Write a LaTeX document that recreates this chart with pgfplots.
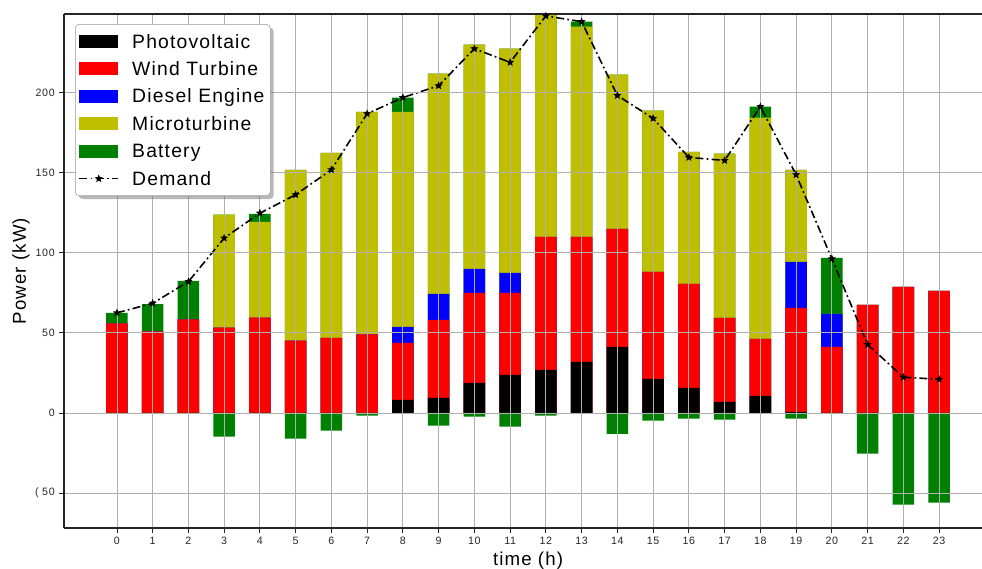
\documentclass[border=0pt]{standalone}
\usepackage{fontspec}
\setmainfont{Liberation Sans}
\newfontfamily\spaced[LetterSpace=6]{Liberation Sans}
\usepackage{pgfplots}
\usepackage{pgfplotstable}
\pgfplotsset{compat=1.18}
\usetikzlibrary{shadows}

\definecolor{mtcol}{RGB}{191,191,0}
\definecolor{batcol}{RGB}{0,128,0}
\definecolor{gridcol}{RGB}{176,176,176}
\definecolor{spine}{RGB}{38,38,38}

% the legend box shadow must not reach the legend samples
\makeatletter
\tikzset{no preactions/.code={\let\tikz@preactions\pgfutil@empty}}
\makeatother

% filled five-pointed star
\pgfdeclareplotmark{fstar}{%
  \pgfpathmoveto{\pgfpointpolar{90}{\pgfplotmarksize}}%
  \pgfpathlineto{\pgfpointpolar{126}{0.45\pgfplotmarksize}}%
  \pgfpathlineto{\pgfpointpolar{162}{\pgfplotmarksize}}%
  \pgfpathlineto{\pgfpointpolar{198}{0.45\pgfplotmarksize}}%
  \pgfpathlineto{\pgfpointpolar{234}{\pgfplotmarksize}}%
  \pgfpathlineto{\pgfpointpolar{270}{0.45\pgfplotmarksize}}%
  \pgfpathlineto{\pgfpointpolar{306}{\pgfplotmarksize}}%
  \pgfpathlineto{\pgfpointpolar{342}{0.45\pgfplotmarksize}}%
  \pgfpathlineto{\pgfpointpolar{18}{\pgfplotmarksize}}%
  \pgfpathlineto{\pgfpointpolar{54}{0.45\pgfplotmarksize}}%
  \pgfpathclose
  \pgfusepathqfill}

\pgfplotsset{
  barleg/.style={legend image code/.code={\fill[##1, sharp corners, no preactions] (0pt,-5pt) rectangle (29pt,5pt);}},
  lineleg/.style={legend image code/.code={\draw[mark repeat=2,mark phase=2,##1, sharp corners, no preactions] plot coordinates {(0pt,0pt) (14.5pt,0pt) (29pt,0pt)};}},
}

% cumulative bar tops (kW): pv, +wind, +diesel, +microturbine, +battery; battery charging below zero
\pgfplotstableread{
h  pv   wt    de    mt    bt    neg    dem
0  0    56    56    56    62.5  0      62.5
1  0    51    51    51    68    0      68.5
2  0    58.5  58.5  58.5  82.5  0      82
3  0    53.3  53.3  123.8 123.8 -14.8  109.2
4  0    59.6  59.6  119.4 124.4 0      124.8
5  0    45.2  45.2  151.9 151.9 -16    136.3
6  0    46.9  46.9  162.5 162.5 -11    151.9
7  0    49    49    188   188   -1.7   186.9
8  8.1  43.8  53.8  188   196.9 0      197
9  9.4  58.1  74.4  211.9 211.9 -7.9   204.4
10 18.8 75    90    230   230   -2.3   227.5
11 23.8 75    87.5  227.5 227.5 -8.5   219
12 26.9 110   110   250   250   -1.7   248
13 31.9 110   110   241.3 244.4 0      244.4
14 41.3 115   115   211.3 211.3 -13.1  198.3
15 21.3 88.1  88.1  188.8 188.8 -4.8   184
16 15.6 80.6  80.6  163.1 163.1 -3.5   159.6
17 6.9  59.4  59.4  161.9 161.9 -4.2   157.7
18 10.6 46.3  46.3  184.4 191.3 0      191.3
19 0.6  65.6  94.4  151.9 151.9 -3.5   148.8
20 0    41.3  61.9  61.9  96.9  0      96.3
21 0    67.5  67.5  67.5  67.5  -25.4  42.7
22 0    78.8  78.8  78.8  78.8  -57.3  22.3
23 0    76.3  76.3  76.3  76.3  -56    21
}\energy

\begin{document}
\begin{tikzpicture}
\useasboundingbox (-48pt,-30pt) rectangle (688.5pt,396pt);
\clip (-48pt,-30pt) rectangle (688.5pt,396pt);
\begin{axis}[
  scale only axis, width=696pt, height=385.5pt,
  xmin=-1.48, xmax=24.48, ymin=-71.9, ymax=249.2,
  axis x line*=box, axis y line*=left,
  xtick pos=left, ytick pos=left,
  xtick={0,...,23},
  ytick={-50,0,50,100,150,200},
  yticklabels={\mbox{( 50},0,50,100,150,200},
  grid=major, grid style={gridcol, line width=0.6pt},
  axis on top,
  tick align=outside, major tick length=3.4pt,
  every tick/.style={spine, line width=0.6pt},
  axis line style={spine, line width=0.8pt},
  /pgf/number format/assume math mode=true,
  ticklabel style={font=\fontsize{8}{9.6}\selectfont\spaced, text=spine},
  xlabel={time (h)}, ylabel={Power (kW)},
  every axis x label/.style={at={(axis description cs:0.5,-0.072)}, anchor=base,
    font=\fontsize{14}{16}\selectfont\spaced},
  every axis y label/.style={at={(axis description cs:-0.041,0.5)}, rotate=90, anchor=base,
    font=\fontsize{14}{16}\selectfont\spaced},
  legend cell align=left,
  legend style={at={(axis description cs:0.0119,0.9805)}, anchor=north west,
    draw=black!40, fill=white, rounded corners=3pt,
    drop shadow={shadow xshift=2.5pt, shadow yshift=-2.5pt, fill=black!55},
    font=\fontsize{14.5}{16}\selectfont\spaced,
    inner xsep=2.5pt, inner ysep=5.3pt, row sep=5.6pt,
    nodes={inner sep=2pt, text height=10.5pt, text depth=0.5pt},
    /tikz/every odd column/.append style={column sep=8pt}},
  bar width=0.6,
]
\addlegendimage{barleg, fill=black, draw=none}
\addlegendentry{Photovoltaic}
\addlegendimage{barleg, fill=red, draw=none}
\addlegendentry{Wind Turbine}
\addlegendimage{barleg, fill=blue, draw=none}
\addlegendentry{Diesel Engine}
\addlegendimage{barleg, fill=mtcol, draw=none}
\addlegendentry{Microturbine}
\addlegendimage{barleg, fill=batcol, draw=none}
\addlegendentry{Battery}
\addlegendimage{lineleg, black, line width=1.2pt, dash pattern=on 6pt off 2.4pt on 1.3pt off 2.4pt,
  mark=fstar, mark size=3.2pt, mark options={solid}}
\addlegendentry{Demand}

\addplot[ybar, bar shift=0pt, draw=none, fill=batcol, forget plot] table[x=h, y=bt] {\energy};
\addplot[ybar, bar shift=0pt, draw=none, fill=mtcol, forget plot] table[x=h, y=mt] {\energy};
\addplot[ybar, bar shift=0pt, draw=none, fill=blue, forget plot] table[x=h, y=de] {\energy};
\addplot[ybar, bar shift=0pt, draw=none, fill=red, forget plot] table[x=h, y=wt] {\energy};
\addplot[ybar, bar shift=0pt, draw=none, fill=black, forget plot] table[x=h, y=pv] {\energy};
\addplot[ybar, bar shift=0pt, draw=none, fill=batcol, forget plot] table[x=h, y=neg] {\energy};

\addplot[black, line width=1.2pt, dash pattern=on 6pt off 2.4pt on 1.3pt off 2.4pt,
  mark=fstar, mark size=3.2pt, mark options={solid}, forget plot] table[x=h, y=dem] {\energy};
\end{axis}
\end{tikzpicture}
\end{document}
